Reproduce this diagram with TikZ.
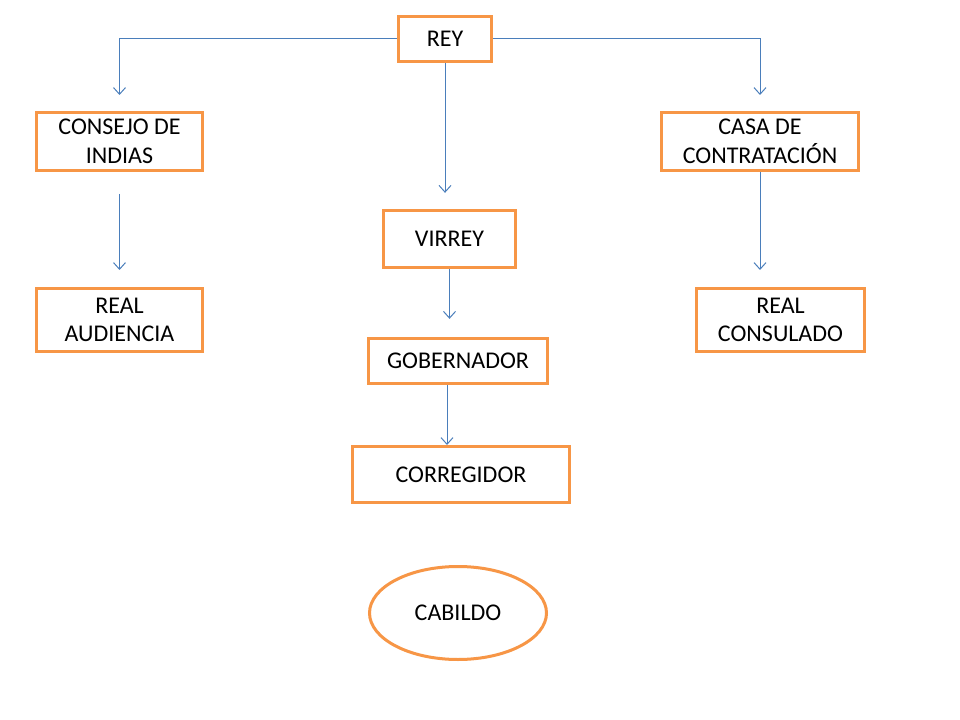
\documentclass[tikz,border=0pt]{standalone}
\usepackage{fontspec}
\setmainfont{Carlito}
\usetikzlibrary{arrows.meta,shapes.geometric}
\definecolor{cajanaranja}{HTML}{F79646}
\definecolor{flechaazul}{HTML}{4A7EBB}
\tikzset{
  caja/.style={draw=cajanaranja, line width=2.25pt, fill=white, inner sep=0pt, align=center,
    font=\fontsize{18}{21.5}\selectfont},
  flecha/.style={draw=flechaazul, line width=0.75pt, -{Straight Barb[length=5pt,width=9pt]}}
}
\begin{document}
\begin{tikzpicture}[x=0.75pt,y=-0.75pt]
\useasboundingbox (0,0) rectangle (960,720);
\node[caja, minimum width=70pt, minimum height=34pt] (rey) at (445,39) {REY};
\node[caja, minimum width=124.5pt, minimum height=43.5pt] (consejo) at (119.5,141.5) {CONSEJO DE\\INDIAS};
\node[caja, minimum width=147.75pt, minimum height=43.5pt] (casa) at (760,141.5) {CASA DE\\CONTRATACIÓN};
\node[caja, minimum width=99pt, minimum height=43pt] (virrey) at (449.5,239) {VIRREY};
\node[caja, minimum width=124.5pt, minimum height=47.25pt] (audiencia) at (119.5,320) {REAL\\AUDIENCIA};
\node[caja, minimum width=126pt, minimum height=47.25pt] (consulado) at (780.5,320) {REAL\\CONSULADO};
\node[caja, minimum width=134.25pt, minimum height=34pt] (gobernador) at (458,361) {GOBERNADOR};
\node[caja, minimum width=162.75pt, minimum height=42pt] (corregidor) at (461,474.5) {CORREGIDOR};
\node[caja, ellipse, minimum width=132.75pt, minimum height=69.75pt] (cabildo) at (458,613) {CABILDO};
% conectores
\draw[flecha, shorten >=12pt] (rey.west) -| (consejo.north);
\draw[flecha, shorten >=12pt] (rey.east) -| (casa.north);
\draw[flecha, shorten >=12pt] (rey.south) -- (rey.south |- virrey.north);
\draw[flecha, shorten <=16.5pt, shorten >=12.75pt] (consejo.south) -- (audiencia.north);
\draw[flecha, shorten >=12.75pt] (casa.south) -- (casa.south |- consulado.north);
\draw[flecha, shorten >=13.5pt] (virrey.south) -- (virrey.south |- gobernador.north);
\draw[flecha] ([xshift=-8.25pt]gobernador.south) -- ([xshift=-10.5pt]corregidor.north);
\end{tikzpicture}
\end{document}
